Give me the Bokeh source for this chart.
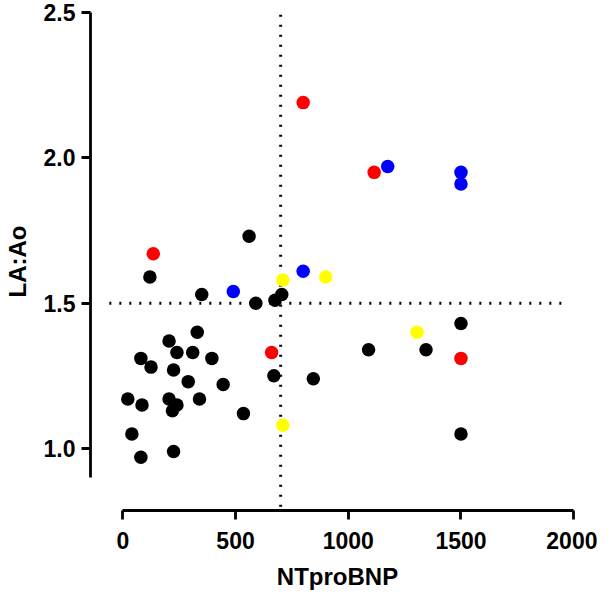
from bokeh.plotting import figure
from bokeh.models import Range1d, NumeralTickFormatter
from bokeh.embed import file_html
from bokeh.resources import INLINE

# Data: NTproBNP (x) vs LA:Ao (y), by group colour
black_x = [330, 205, 240, 310, 80, 125, 395, 225, 290, 445, 22, 85, 205, 240, 220,
           340, 535, 40, 80, 225, 670, 845, 120, 560, 350, 590, 675, 705, 1090,
           1345, 1500, 1500]
black_y = [1.40, 1.37, 1.33, 1.33, 1.31, 1.28, 1.31, 1.27, 1.23, 1.22, 1.17, 1.15, 1.17,
           1.15, 1.13, 1.17, 1.12, 1.05, 0.97, 0.99, 1.25, 1.24, 1.59, 1.73, 1.53, 1.50,
           1.51, 1.53, 1.34, 1.34, 1.43, 1.05]
red_x = [135, 660, 800, 1115, 1500]
red_y = [1.67, 1.33, 2.19, 1.95, 1.31]
blue_x = [490, 800, 1175, 1500, 1500]
blue_y = [1.54, 1.61, 1.97, 1.95, 1.91]
yellow_x = [710, 900, 1305, 710]
yellow_y = [1.58, 1.59, 1.40, 1.08]

x_ticks = [0, 500, 1000, 1500, 2000]
y_ticks = [1.0, 1.5, 2.0, 2.5]
x_cut = 700
y_cut = 1.5

p = figure(width=597, height=594, output_backend="svg", toolbar_location=None,
           x_range=Range1d(-143.5, 2048), y_range=Range1d(0.7867, 2.5),
           min_border_left=80, min_border_right=13, min_border_top=12, min_border_bottom=84)
p.outline_line_color = None
p.xgrid.visible = False
p.ygrid.visible = False
p.background_fill_color = "white"

# reference lines (dotted)
p.line([x_cut, x_cut], [0.8, 2.5], line_color="black", line_width=3, line_dash="2 8")
p.line([-60, 1960], [y_cut, y_cut], line_color="black", line_width=3, line_dash="2 8")

for xs, ys, c in [(black_x, black_y, "#000000"), (red_x, red_y, "#ff0000"),
                  (blue_x, blue_y, "#0000ff"), (yellow_x, yellow_y, "#ffff00")]:
    p.scatter(xs, ys, size=13.5, fill_color=c, line_color=None)

for ax, ticks, bounds, label in [(p.xaxis[0], x_ticks, (0, 2000), "NTproBNP"),
                                 (p.yaxis[0], y_ticks, (0.9, 2.5), "LA:Ao")]:
    ax.ticker = ticks
    ax.bounds = bounds
    ax.axis_label = label
    ax.axis_line_width = 2.8
    ax.major_tick_line_width = 2.8
    ax.major_tick_out = 9
    ax.major_tick_in = 0
    ax.minor_tick_line_color = None
    ax.major_label_text_font = "Liberation Sans"
    ax.major_label_text_font_style = "bold"
    ax.major_label_text_font_size = "23px"
    ax.major_label_text_color = "black"
    ax.axis_label_text_font = "Liberation Sans"
    ax.axis_label_text_font_style = "bold"
    ax.axis_label_text_font_size = "24px"
    ax.axis_label_text_color = "black"

p.yaxis[0].formatter = NumeralTickFormatter(format="0.0")
p.xaxis[0].major_label_standoff = 12
p.xaxis[0].axis_label_standoff = 11
p.yaxis[0].major_label_standoff = 6
p.yaxis[0].axis_label_standoff = 10

open("out.html", "w").write(file_html(p, INLINE))
